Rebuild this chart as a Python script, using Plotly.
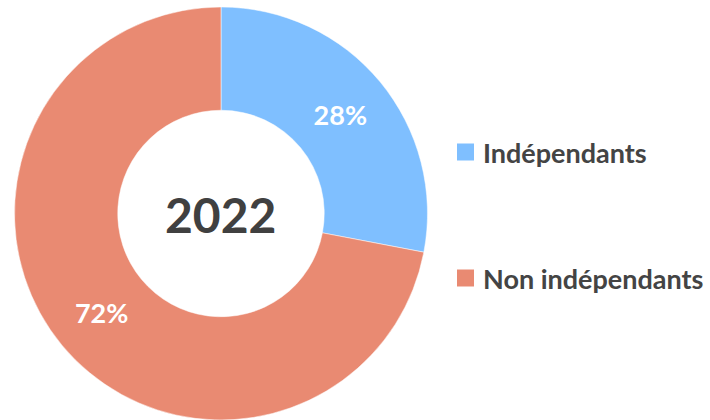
import plotly.graph_objects as go

labels = ["Indépendants", "Non indépendants"]
values = [28, 72]
colors = ["#7FBFFF", "#E98A72"]
year = "2022"

W, H = 710, 420

fig = go.Figure(go.Pie(
    labels=labels, values=values, hole=0.5, sort=False,
    direction="clockwise", rotation=0,
    marker=dict(colors=colors, line=dict(color="white", width=0.5)),
    textinfo="percent", texttemplate="%{percent:.0%}",
    textposition="inside", insidetextorientation="horizontal",
    textfont=dict(family="Lato", size=27, color="white", weight=700),
    domain=dict(x=[14 / W, 428 / W], y=[0, 413 / H]),
    showlegend=False, hoverinfo="label+percent",
))

# centre label
fig.add_annotation(x=221 / W, y=(H - 214) / H, xref="paper", yref="paper",
                   text=year, showarrow=False, xanchor="center", yanchor="middle",
                   font=dict(family="Lato", size=48, color="#404040", weight=700))

# legend drawn by hand (items are far apart)
leg_y = [152, 278]
for lab, col, yy in zip(labels, colors, leg_y):
    fig.add_shape(type="rect", xref="paper", yref="paper",
                  x0=457 / W, x1=474 / W, y0=(H - yy - 8.5) / H, y1=(H - yy + 8.5) / H,
                  fillcolor=col, line_width=0)
    fig.add_annotation(x=481 / W, y=(H - yy) / H, xref="paper", yref="paper",
                       text=lab, showarrow=False, xanchor="left", yanchor="middle",
                       font=dict(family="Lato", size=27, color="#444444", weight=700))

fig.update_layout(width=W, height=H, margin=dict(l=0, r=0, t=0, b=0),
                  paper_bgcolor="white", plot_bgcolor="white")
fig.write_html("out.html", config={"displayModeBar": False},
               post_script="document.body.style.margin='0';")
